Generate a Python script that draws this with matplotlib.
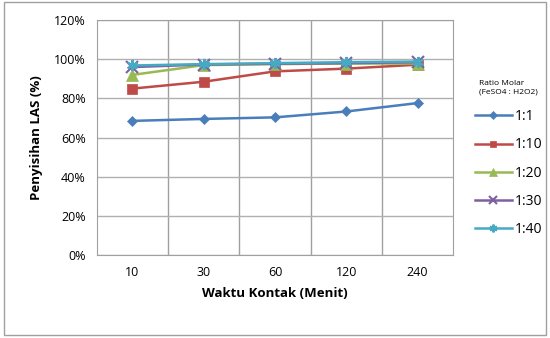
import matplotlib.pyplot as plt
from matplotlib.patches import Rectangle

plt.rcParams['font.family'] = ['Open Sans', 'DejaVu Sans']

waktu = ['10', '30', '60', '120', '240']
rasio = ['1:1', '1:10', '1:20', '1:30', '1:40']
penyisihan = [
    [68.5, 69.5, 70.3, 73.3, 77.6],
    [85.0, 88.5, 93.8, 95.2, 97.2],
    [92.0, 97.0, 97.5, 97.8, 97.8],
    [96.0, 97.3, 97.7, 98.0, 98.5],
    [96.8, 97.5, 98.0, 98.5, 98.8],
]
colors = ['#4a7ebb', '#be4b48', '#98b954', '#7d60a0', '#46aac5']
markers = ['D', 's', '^', 'x', (6, 2, 0)]
sizes = [5.5, 7, 8, 8, 8]

fig = plt.figure(figsize=(5.5, 3.38), dpi=100)
ax = fig.add_axes([0.176, 0.2456, 0.648, 0.695])

x = list(range(len(waktu)))
for name, vals, c, m, s in zip(rasio, penyisihan, colors, markers, sizes):
    ax.plot(x, vals, color=c, marker=m, markersize=s, lw=1.8,
            markeredgewidth=1.5 if m in ('x', (6, 2, 0)) else 0.5,
            markeredgecolor=c, label=name)

ax.set_xlim(-0.5, 4.5)
ax.set_ylim(0, 120)
ax.set_yticks(range(0, 121, 20))
ax.set_yticklabels([f'{v}%' for v in range(0, 121, 20)], fontsize=9)
ax.set_xticks(x)
ax.set_xticklabels(waktu, fontsize=9)
ax.set_xticks([i + 0.5 for i in range(4)], minor=True)
ax.tick_params(axis='both', which='both', length=0, pad=8)
ax.grid(axis='y', color='#b0b0b0', lw=1)
ax.grid(axis='x', which='minor', color='#a0a0a0', lw=1)
ax.set_axisbelow(True)
for sp in ax.spines.values():
    sp.set_color('#a0a0a0')

ax.set_xlabel('Waktu Kontak (Menit)', fontsize=9.5, fontweight='bold', labelpad=6)
ax.set_ylabel('Penyisihan LAS (%)', fontsize=9.5, fontweight='bold', labelpad=8)

leg = ax.legend(title='Ratio Molar\n(FeSO4 : H2O2)', loc='upper left',
                bbox_to_anchor=(1.035, 0.785), frameon=False, fontsize=10,
                title_fontproperties={'size': 6}, handlelength=2.6,
                labelspacing=0.95, handletextpad=0.2, markerscale=0.7,
                borderpad=0.2)
leg._legend_box.align = 'center'
leg._legend_box.sep = 10

fig.add_artist(Rectangle((0.008, 0.008), 0.985, 0.985, transform=fig.transFigure,
                         fill=False, edgecolor='#a0a0a0', lw=1))

fig.savefig('out.png', dpi=100)
